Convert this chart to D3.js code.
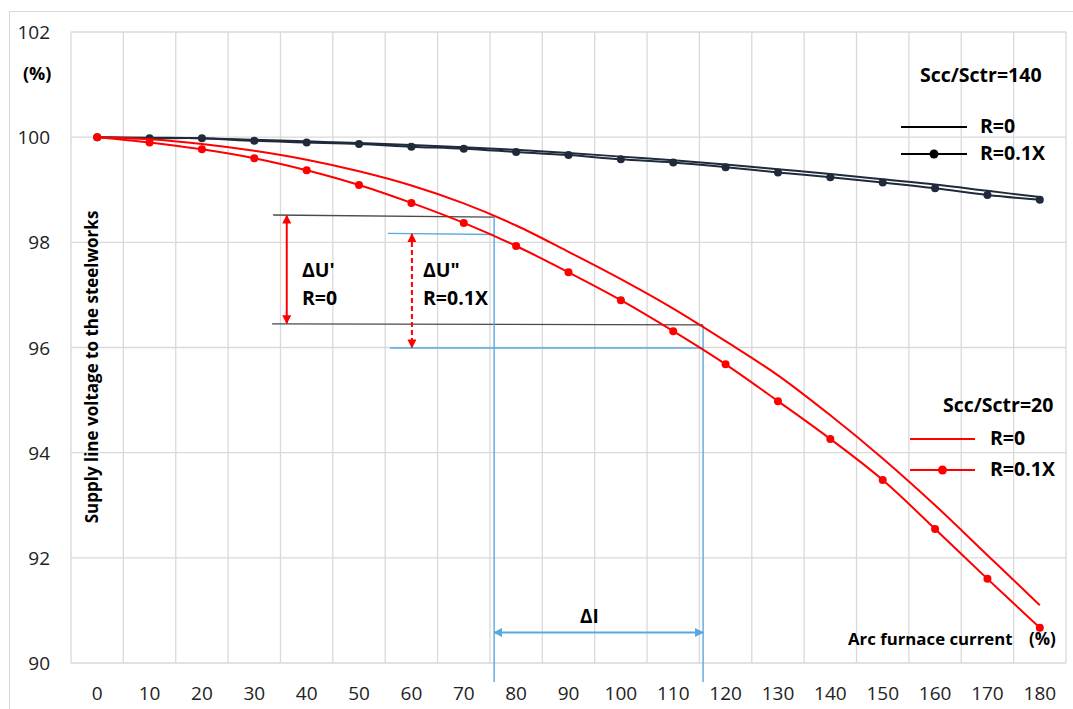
<!DOCTYPE html>
<html>
<head>
<meta charset="utf-8">
<script src="https://cdn.jsdelivr.net/npm/d3@7"></script>
<style>
  body { margin: 0; background: #fff; }
  svg { display: block; font-family: "Open Sans", sans-serif; }
</style>
</head>
<body>
<div id="chart"></div>
<script>
// categories (arc furnace current, %)
const currents = [0, 10, 20, 30, 40, 50, 60, 70, 80, 90, 100, 110, 120, 130, 140, 150, 160, 170, 180];
const yTicks = [90, 92, 94, 96, 98, 100, 102];

// Scc/Sctr = 140
const scc140R0 = [100, 99.99, 99.98, 99.95, 99.92, 99.89, 99.85, 99.81, 99.76, 99.70, 99.63, 99.56, 99.48, 99.39, 99.30, 99.20, 99.10, 98.98, 98.86];
const scc140R01X = [100, 99.98, 99.98, 99.93, 99.90, 99.87, 99.82, 99.78, 99.72, 99.66, 99.58, 99.52, 99.43, 99.33, 99.24, 99.14, 99.03, 98.90, 98.81];
// Scc/Sctr = 20
const scc20R0 = [100, 99.96, 99.87, 99.74, 99.57, 99.35, 99.08, 98.74, 98.32, 97.82, 97.30, 96.74, 96.12, 95.47, 94.71, 93.89, 93.00, 92.05, 91.10];
const scc20R01X = [100, 99.90, 99.77, 99.60, 99.37, 99.09, 98.75, 98.37, 97.93, 97.43, 96.90, 96.31, 95.68, 94.98, 94.26, 93.48, 92.55, 91.60, 90.67];

// annotation values
const dUR0 = [98.52, 96.45];      // R=0 voltage band
const dUR01X = [98.17, 95.99];    // R=0.1X voltage band
const dI = [75.8, 115.7];         // current band

const width = 1073, height = 709;
const margin = {left: 71, right: 7, top: 32, bottom: 46};

const svg = d3.select('#chart').append('svg')
  .attr('width', width)
  .attr('height', height);

// chart area border
svg.append('rect')
  .attr('x', 9.5).attr('y', 11.5)
  .attr('width', width).attr('height', height)
  .attr('fill', '#fff')
  .attr('stroke', '#d9d9d9');

const x = d3.scaleLinear()
  .domain([-5, 185])
  .range([margin.left, width - margin.right]);

const y = d3.scaleLinear()
  .domain([90, 102])
  .range([height - margin.bottom, margin.top]);

// GRID
const grid = svg.append('g').attr('stroke', '#d9d9d9').attr('stroke-width', 1.3);
grid.selectAll('.h')
  .data(yTicks)
  .enter().append('line')
  .attr('x1', x(-5)).attr('x2', x(185))
  .attr('y1', d => y(d)).attr('y2', d => y(d));
grid.selectAll('.v')
  .data(d3.range(-5, 186, 10))
  .enter().append('line')
  .attr('x1', d => x(d)).attr('x2', d => x(d))
  .attr('y1', y(102)).attr('y2', y(90));

// AXIS LABELS
svg.append('g')
  .selectAll('text')
  .data(yTicks)
  .enter().append('text')
  .attr('x', 50)
  .attr('y', d => y(d) + 7)
  .attr('text-anchor', 'end')
  .style('font-size', '19px')
  .attr('fill', '#222')
  .text(d => d);

svg.append('g')
  .selectAll('text')
  .data(currents)
  .enter().append('text')
  .attr('x', d => x(d))
  .attr('y', 700)
  .attr('text-anchor', 'middle')
  .style('font-size', '19px')
  .attr('fill', '#222')
  .text(d => d);

// ANNOTATIONS
const blue = '#5aa9de', red = '#ff0000', dark = '#4a4a4a';
const ann = svg.append('g').attr('stroke-width', 1.4).attr('fill', 'none');

function seg(x1, y1, x2, y2, color) {
  ann.append('line')
    .attr('x1', x(x1)).attr('y1', y(y1))
    .attr('x2', x(x2)).attr('y2', y(y2))
    .attr('stroke', color);
}
seg(33.6, dUR0[0], 75.8, dUR0[0] - 0.04, dark);
seg(33.4, dUR0[1], dI[1], dUR0[1] - 0.02, dark);
seg(55.5, dUR01X[0], dI[0], dUR01X[0] - 0.02, blue);
seg(55.9, dUR01X[1], dI[1], dUR01X[1], blue);
seg(dI[0], dUR0[0] - 0.04, dI[0], 89.64, blue);
seg(dI[1], dUR0[1] - 0.02, dI[1], 89.64, blue);

// arrow heads
const defs = svg.append('defs');
function marker(id, color) {
  defs.append('marker')
    .attr('id', id)
    .attr('viewBox', '0 0 10 10')
    .attr('refX', 9).attr('refY', 5)
    .attr('markerWidth', 9).attr('markerHeight', 9)
    .attr('markerUnits', 'userSpaceOnUse')
    .attr('orient', 'auto-start-reverse')
    .append('path')
    .attr('d', 'M0,0 L10,5 L0,10 z')
    .attr('fill', color);
}
marker('arRed', red);
marker('arBlue', blue);

function arrow(x1, y1, x2, y2, color, id, dash, w) {
  svg.append('line')
    .attr('x1', x(x1)).attr('y1', y(y1))
    .attr('x2', x(x2)).attr('y2', y(y2))
    .attr('stroke', color)
    .attr('stroke-width', w)
    .attr('stroke-dasharray', dash)
    .attr('marker-start', `url(#${id})`)
    .attr('marker-end', `url(#${id})`);
}
arrow(36.2, dUR0[0] - 0.01, 36.2, dUR0[1] + 0.01, red, 'arRed', null, 2);
arrow(60.1, dUR01X[0] - 0.01, 60.1, dUR01X[1] + 0.01, red, 'arRed', '5,3', 2);
arrow(dI[0], 90.58, dI[1], 90.58, blue, 'arBlue', null, 2);

// SERIES
const line = d3.line()
  .x((d, i) => x(currents[i]))
  .y(d => y(d))
  .curve(d3.curveCatmullRom.alpha(0.5));

const navy = '#1f2b3a';
const series = [
  {values: scc140R0, color: navy, dots: false},
  {values: scc140R01X, color: navy, dots: true},
  {values: scc20R0, color: red, dots: false},
  {values: scc20R01X, color: red, dots: true}
];

series.forEach(s => {
  svg.append('path')
    .attr('d', line(s.values))
    .attr('fill', 'none')
    .attr('stroke', s.color)
    .attr('stroke-width', 2);
  if (s.dots) {
    svg.append('g')
      .selectAll('circle')
      .data(s.values)
      .enter().append('circle')
      .attr('cx', (d, i) => x(currents[i]))
      .attr('cy', d => y(d))
      .attr('r', 4)
      .attr('fill', s.color);
  }
});

// TEXTS
function label(tx, ty, str, size, anchor, color) {
  return svg.append('text')
    .attr('x', tx).attr('y', ty)
    .attr('text-anchor', anchor || 'start')
    .attr('fill', color || '#000')
    .style('font-size', size + 'px')
    .style('font-weight', 'bold')
    .text(str);
}
label(23, 80, '(%)', 18);
label(848, 645, 'Arc furnace current', 16.8);
label(1029, 645, '(%)', 17);
label(580, 623, 'ΔI', 19);
label(302, 277, "ΔU'", 19.5);
label(302, 305, 'R=0', 19.5);
label(423, 277, 'ΔU"', 19.5);
label(423, 305, 'R=0.1X', 19.5);

svg.append('text')
  .attr('transform', 'translate(98,367) rotate(-90)')
  .attr('text-anchor', 'middle')
  .style('font-size', '17px')
  .style('font-weight', 'bold')
  .text('Supply line voltage to the steelworks');

// LEGENDS
function legend(ly, title, titleX, items, color, lineX, textX) {
  label(titleX, ly, title, 19.5);
  items.forEach(it => {
    const yy = it.y;
    svg.append('line')
      .attr('x1', lineX[0]).attr('x2', lineX[1])
      .attr('y1', yy).attr('y2', yy)
      .attr('stroke', color).attr('stroke-width', 2);
    if (it.dot) {
      svg.append('circle')
        .attr('cx', (lineX[0] + lineX[1]) / 2).attr('cy', yy)
        .attr('r', 4.5).attr('fill', color);
    }
    label(textX, yy + 6, it.name, 19.5);
  });
}
legend(82, 'Scc/Sctr=140', 920, [
  {name: 'R=0', y: 127, dot: false},
  {name: 'R=0.1X', y: 154, dot: true}
], '#000', [901, 967], 980);
legend(412, 'Scc/Sctr=20', 943, [
  {name: 'R=0', y: 439, dot: false},
  {name: 'R=0.1X', y: 470, dot: true}
], red, [910, 975], 990);
</script>
</body>
</html>
